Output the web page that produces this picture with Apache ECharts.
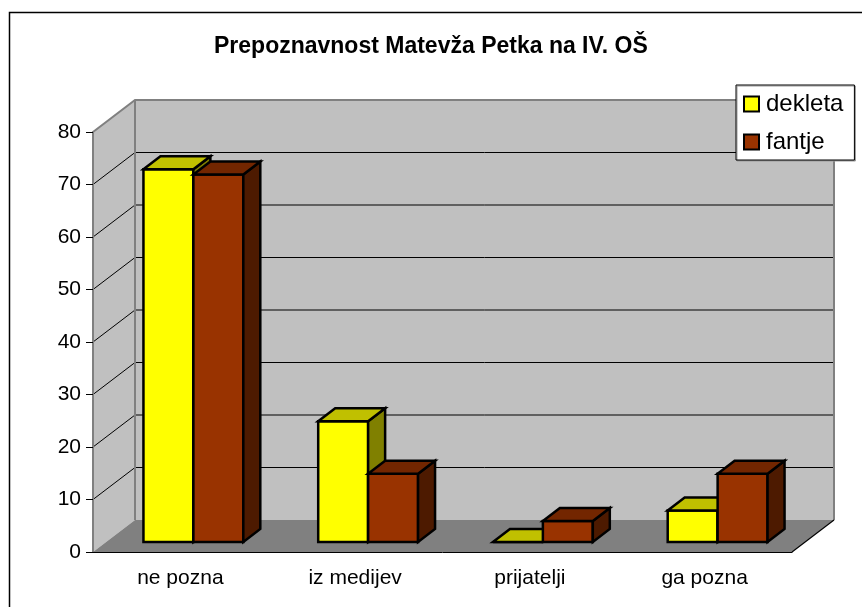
<!DOCTYPE html>
<html>
<head>
<meta charset="utf-8">
<script src="https://cdn.jsdelivr.net/npm/echarts@6/dist/echarts.min.js"></script>
<style>
  html, body { margin: 0; padding: 0; background: #fff; }
  #chart { width: 862px; height: 607px; }
</style>
</head>
<body>
<div id="chart"></div>
<script>
const categories = ['ne pozna', 'iz medijev', 'prijatelji', 'ga pozna']
const dekleta = [71, 23, 0, 6]
const fantje = [70, 13, 4, 13]
const yTicks = [0, 10, 20, 30, 40, 50, 60, 70, 80]

const font = 'Liberation Sans, Arial, sans-serif'
// oblique depth of the whole box, bar set-back and bar thickness (px)
const wallDepth = [42, -32]
const barFront = [13, -10]
const barDepth = [17, -13]

function poly(points, fill, stroke, lw) {
  return {
    type: 'polygon',
    shape: { points },
    style: { fill, stroke: stroke || 'none', lineWidth: lw || 0, lineJoin: 'miter' }
  }
}

function wallsRender(params, api) {
  const cs = params.coordSys
  const [dx, dy] = wallDepth
  const xl = cs.x, xr = cs.x + cs.width
  const yt = cs.y, yb = cs.y + cs.height
  const kids = []
  // back wall, left wall, floor
  kids.push(poly([[xl + dx, yt + dy], [xr + dx, yt + dy], [xr + dx, yb + dy], [xl + dx, yb + dy]], '#C0C0C0'))
  kids.push(poly([[xl, yt], [xl + dx, yt + dy], [xl + dx, yb + dy], [xl, yb]], '#C0C0C0'))
  kids.push(poly([[xl, yb], [xl + dx, yb + dy], [xr + dx, yb + dy], [xr, yb]], '#808080'))
  // grid lines on the walls
  yTicks.forEach(v => {
    if (v === 0 || v === yTicks[yTicks.length - 1]) return
    const y = api.coord([0, v])[1]
    kids.push({ type: 'line', shape: { x1: xl, y1: y, x2: xl + dx, y2: y + dy }, style: { stroke: '#000', lineWidth: 1 } })
    kids.push({ type: 'line', shape: { x1: xl + dx, y1: y + dy, x2: xr + dx, y2: y + dy }, style: { stroke: '#000', lineWidth: 1 } })
  })
  // wall edges
  kids.push({ type: 'polyline', shape: { points: [[xl, yt], [xl + dx, yt + dy], [xr + dx, yt + dy], [xr + dx, yb + dy]] }, style: { stroke: '#808080', lineWidth: 2, fill: 'none' } })
  kids.push({ type: 'line', shape: { x1: xl + dx, y1: yt + dy, x2: xl + dx, y2: yb + dy }, style: { stroke: '#808080', lineWidth: 2 } })
  kids.push({ type: 'line', shape: { x1: xr, y1: yb, x2: xr + dx, y2: yb + dy }, style: { stroke: '#000', lineWidth: 1.2 } })
  return { type: 'group', children: kids }
}

function barRender(side, faces) {
  return function (params, api) {
    const idx = api.value(0)
    const val = api.value(1)
    const base = api.coord([idx, 0])
    const top = api.coord([idx, val])
    const bw = api.size([1, 0])[0] / 3.5
    const x0 = base[0] + (side === 0 ? -bw : 0) + barFront[0]
    const x1 = x0 + bw
    const yb = base[1] + barFront[1]
    const yt = top[1] + barFront[1]
    const [dx, dy] = barDepth
    return {
      type: 'group',
      children: [
        poly([[x0, yt], [x1, yt], [x1, yb], [x0, yb]], faces[0], '#000', 2.5),
        poly([[x1, yt], [x1 + dx, yt + dy], [x1 + dx, yb + dy], [x1, yb]], faces[2], '#000', 2.5),
        poly([[x0, yt], [x0 + dx, yt + dy], [x1 + dx, yt + dy], [x1, yt]], faces[1], '#000', 2.5)
      ]
    }
  }
}

const chart = echarts.init(document.getElementById('chart'))
chart.setOption({
  animation: false,
  backgroundColor: '#fff',
  title: {
    text: 'Prepoznavnost Matevža Petka na IV. OŠ',
    left: 214,
    top: 35,
    padding: 0,
    textStyle: { fontFamily: font, fontSize: 23, fontWeight: 'bold', color: '#000' }
  },
  legend: {
    data: ['dekleta', 'fantje'],
    orient: 'vertical',
    left: 736,
    top: 85,
    padding: [6, 11, 5, 7],
    itemGap: 12,
    itemWidth: 15,
    itemHeight: 15,
    icon: 'rect',
    backgroundColor: '#fff',
    borderColor: '#000',
    borderWidth: 1,
    borderRadius: 0,
    shadowColor: '#999',
    shadowOffsetX: 1,
    shadowOffsetY: 1,
    itemStyle: { borderColor: '#000', borderWidth: 2 },
    textStyle: { fontFamily: font, fontSize: 24, lineHeight: 26, color: '#000', padding: [0, 0, 0, 2] }
  },
  grid: { left: 93, top: 132, right: 70, bottom: 55 },
  xAxis: {
    type: 'category',
    data: categories,
    z: 5,
    axisLine: { lineStyle: { color: '#000', width: 1 } },
    axisTick: { length: 7, lineStyle: { color: '#000', width: 1 } },
    axisLabel: { fontFamily: font, fontSize: 21, color: '#000', margin: 16 }
  },
  yAxis: {
    type: 'value',
    min: 0,
    max: 80,
    interval: 10,
    z: 5,
    axisLine: { show: true, lineStyle: { color: '#808080', width: 2 } },
    axisTick: { show: true, length: 7, lineStyle: { color: '#000', width: 1 } },
    axisLabel: { fontFamily: font, fontSize: 21, color: '#000', margin: 12 },
    splitLine: { show: false }
  },
  series: [
    {
      type: 'custom',
      name: 'walls',
      silent: true,
      clip: false,
      z: 1,
      data: [[0, 0]],
      encode: { x: 0, y: 1 },
      renderItem: wallsRender
    },
    {
      type: 'custom',
      name: 'dekleta',
      clip: false,
      z: 3,
      itemStyle: { color: '#FFFF00' },
      data: dekleta.map((v, i) => [i, v]),
      encode: { x: 0, y: 1 },
      renderItem: barRender(0, ['#FFFF00', '#C0C000', '#808000'])
    },
    {
      type: 'custom',
      name: 'fantje',
      clip: false,
      z: 4,
      itemStyle: { color: '#993300' },
      data: fantje.map((v, i) => [i, v]),
      encode: { x: 0, y: 1 },
      renderItem: barRender(1, ['#993300', '#732600', '#4D1A00'])
    }
  ],
  graphic: [{
    type: 'rect',
    shape: { x: 9.5, y: 12.5, width: 900, height: 700 },
    style: { fill: 'none', stroke: '#000', lineWidth: 1.5 },
    silent: true
  }]
})
</script>
</body>
</html>
